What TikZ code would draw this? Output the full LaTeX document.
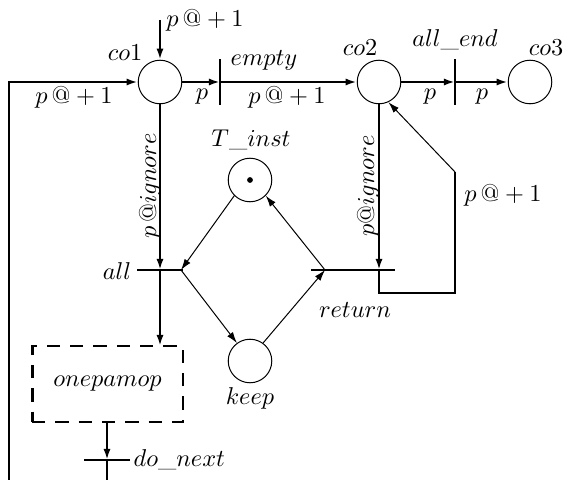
\documentclass[tikz,border=0pt]{standalone}
\usetikzlibrary{arrows.meta,calc}
\begin{document}
\begin{tikzpicture}[x=0.45pt,y=-0.45pt,
  font=\fontsize{11.2}{13}\selectfont,
  thk/.style={line width=1.3pt},
  thn/.style={line width=0.45pt},
  arr/.style={-{Latex[length=5pt,width=3.2pt]}},
  place/.style={circle,draw,line width=0.45pt,minimum size=19.6pt,inner sep=0pt},
  vbar/.style={fill=black,inner sep=0pt,minimum width=1.3pt,minimum height=20.5pt},
  hbar/.style={fill=black,inner sep=0pt,minimum height=1.3pt,minimum width=#1},
  lbl/.style={inner sep=1pt}
]
\useasboundingbox (0,0) rectangle (569,480);
% places
\node[place] (co1) at (160,82) {};
\node[place] (co2) at (379,82) {};
\node[place] (co3) at (530,82) {};
\node[place] (tinst) at (250,180) {};
\node[circle,fill=black,inner sep=0pt,minimum size=2.6pt] (tok) at (250,180) {};
\node[place] (keep) at (250,361) {};
% transitions
\node[vbar] (empty) at (220,82) {};
\node[vbar] (allend) at (455,82) {};
\node[hbar=20.7pt] (all) at (160,270) {};
\node[hbar=37.8pt] (ret) at (353,270) {};
\node[hbar=20.7pt] (donext) at (107,460) {};
% box
\node[draw,thk,dash pattern=on 6pt off 4.5pt,minimum width=67.9pt,minimum height=34.2pt,inner sep=0pt] (box) at (107.5,384) {$onepamop$};
% coordinates
\coordinate (topin) at (160,20);
\coordinate (loopbot) at (9,480);
\coordinate (loopcorner) at (9,82);
\coordinate (allc) at (160,270);
\coordinate (alle) at (181,270);
\coordinate (retl) at (325,270);
\coordinate (retc) at (379,270);
\coordinate (r1) at (379,293);
\coordinate (r2) at (455,293);
\coordinate (r3) at (455,172);
\coordinate (boxtop) at (160,346);
\coordinate (boxbot) at (107,422);
\coordinate (dnc) at (107,460);
\coordinate (dnbot) at (107,480);
% thick arcs
\draw[thk,arr] (topin) -- (co1.north);
\draw[thk,arr] (loopbot) -- (loopcorner) -- (co1.west);
\draw[thk,arr] (co1.east) -- (empty.center);
\draw[thk,arr] (empty.center) -- (co2.west);
\draw[thk,arr] (co2.east) -- (allend.center);
\draw[thk,arr] (allend.center) -- (co3.west);
\draw[thk,arr] (co1.south) -- (allc);
\draw[thk,arr] (allc) -- (boxtop);
\draw[thk,arr] (co2.south) -- (retc);
\draw[thk] (retc) -- (r1) -- (r2) -- (r3);
\draw[thn,arr] (r3) -- (co2.-65);
\draw[thk,arr] (boxbot) -- (dnc);
\draw[thk] (dnc) -- (dnbot);
% thin arcs
\draw[thn,arr] (tinst.-135) -- (alle);
\draw[thn,arr] (alle) -- (keep.126);
\draw[thn,arr] (keep.54) -- (retl);
\draw[thn,arr] (retl) -- (tinst.-45);
% labels
\node[lbl] (l1) at (205,20) {$p\,@+1$};
\node[lbl] (l2) at (125,53) {$co1$};
\node[lbl] (l3) at (74,97) {$p\,@+1$};
\node[lbl] (l4) at (202,97) {$p$};
\node[lbl] (l5) at (264,60) {$empty$};
\node[lbl] (l6) at (287,97) {$p\,@+1$};
\node[lbl] (l7) at (360,48) {$co2$};
\node[lbl] (l8) at (455,40) {$all\_end$};
\node[lbl] (l9) at (546,48) {$co3$};
\node[lbl] (l10) at (430,97) {$p$};
\node[lbl] (l11) at (482,97) {$p$};
\node[lbl] (l12) at (251,140) {$T\_inst$};
\node[lbl,rotate=90] (l13) at (150,186) {$p\,@ignore$};
\node[lbl,rotate=90] (l14) at (368,186) {$p@ignore$};
\node[lbl] (l15) at (503,195) {$p\,@+1$};
\node[lbl] (l16) at (117,271) {$all$};
\node[lbl] (l17) at (355,310) {$return$};
\node[lbl] (l18) at (250,398) {$keep$};
\node[lbl,anchor=west] (l19) at (131,460) {$do\_next$};
\end{tikzpicture}
\end{document}
